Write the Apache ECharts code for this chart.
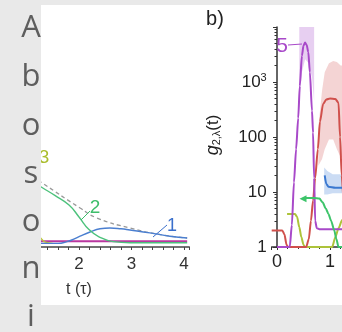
<!DOCTYPE html>
<html>
<head>
<meta charset="utf-8">
<script src="https://cdn.jsdelivr.net/npm/echarts@6/dist/echarts.min.js"></script>
<style>
  html, body { margin: 0; padding: 0; background: #e9e9e9; }
  #chart { width: 342px; height: 332px; }
</style>
</head>
<body>
<div id="chart"></div>
<script>
// side letters of the page text column
const sideLetters = ['A', 'b', 'o', 's', 'o', 'n', 'i']
const sideBaselines = [39, 88, 137, 185, 233, 280, 328]

// panel a) : t (tau) vs population, linear
const aGreen = [[1.0, 0.58], [1.28, 0.5], [1.54, 0.43], [1.81, 0.35], [2.0, 0.25], [2.19, 0.145], [2.38, 0.085], [2.65, 0.045], [2.97, 0.036], [4.06, 0.036]]
const aDashed = [[1.0, 0.62], [1.3, 0.533], [2.02, 0.325], [2.34, 0.242], [2.97, 0.158], [3.6, 0.1], [4.06, 0.075]]
const aBlue = [[1.0, 0.03], [1.6, 0.03], [1.77, 0.045], [1.9, 0.065], [2.02, 0.09], [2.21, 0.125], [2.4, 0.152], [2.59, 0.158], [2.8, 0.152], [2.97, 0.142], [3.35, 0.118], [3.73, 0.09], [4.06, 0.075]]
const aYellow = [[1.0, 0.25], [1.15, 0.13], [1.25, 0.085], [1.3, 0.06], [1.36, 0.04], [1.5, 0.03]]
const aMagenta = [[1.0, 0.048], [4.06, 0.048]]

// panel b) : g2 on a log scale
const bPurple = [[0, 1], [0.24, 1], [0.28, 2.5], [0.32, 15], [0.36, 60], [0.4, 220], [0.43, 850], [0.47, 3000], [0.5, 4600], [0.53, 5200], [0.56, 4700], [0.59, 3500], [0.62, 1500], [0.66, 300], [0.68, 120], [0.7, 18], [0.72, 3], [0.75, 2.2], [0.8, 2.1], [1.3, 2.1]]
const bRed = [[-0.1, 2], [0.1, 2], [0.14, 1.7], [0.18, 1.1], [0.21, 1], [0.55, 1], [0.6, 1.4], [0.64, 3], [0.68, 7], [0.72, 18], [0.77, 60], [0.81, 190], [0.87, 400], [0.93, 480], [1.0, 500], [1.1, 490], [1.16, 420], [1.19, 100], [1.22, 20], [1.26, 5]]
const bBlue = [[0.9, 20], [0.93, 14], [0.97, 12.5], [1.1, 12], [1.3, 12]]
const bGreen = [[0.49, 7.5], [0.55, 7.8], [0.7, 7.8], [0.8, 7.6], [0.86, 6.5], [0.92, 5], [0.97, 4], [1.02, 3], [1.08, 2], [1.12, 1.4], [1.16, 1], [1.3, 1]]
const bYellow = [[0.19, 4], [0.34, 4], [0.38, 3.5], [0.42, 2.3], [0.46, 1.5], [0.5, 1.1], [0.53, 1], [1.04, 1], [1.1, 1.5], [1.16, 2.2], [1.23, 3.1], [1.3, 4]]

// shaded bands: [x, low, high]
const bPurpleBand = [[0.42, 450, 10000], [0.47, 1500, 10000], [0.53, 2600, 10000], [0.6, 2200, 10000], [0.66, 1200, 10000], [0.7, 450, 10000]]
const bRedBand = [[0.78, 30, 150], [0.85, 40, 700], [0.9, 60, 1500], [0.98, 90, 2200], [1.06, 90, 2400], [1.13, 60, 2300], [1.2, 43, 2000], [1.3, 43, 2000]]
const bBlueBand = [[0.89, 9, 28], [0.95, 9, 24], [1.05, 9.5, 21], [1.3, 9.5, 21]]

const logLabel = v => (v === 1000 ? '10{s|3}' : v === 10000 ? '' : String(v))

const font = '"Liberation Sans", Arial, sans-serif'

const band = (data, fill) => ({
  type: 'custom',
  xAxisIndex: 1,
  yAxisIndex: 1,
  clip: true,
  z: 1,
  silent: true,
  data,
  encode: { x: 0, y: [1, 2] },
  renderItem: (params, api) => {
    if (params.dataIndex !== 0) return null
    const upper = data.map(d => api.coord([d[0], d[2]]))
    const lower = data.map(d => api.coord([d[0], d[1]])).reverse()
    return { type: 'polygon', shape: { points: upper.concat(lower) }, style: { fill } }
  }
})

const line = (data, color, axis, extra = {}) => ({
  type: 'line',
  xAxisIndex: axis,
  yAxisIndex: axis,
  data,
  symbol: 'none',
  smooth: axis ? 0.25 : 0.5,
  smoothMonotone: axis ? 'x' : undefined,
  lineStyle: { color, width: axis ? 2 : 1.4 },
  z: 3,
  ...extra
})

const text = (x, y, str, size, fill, z = 120) => ({
  type: 'text', x, y, z,
  style: { text: str, font: `${size}px ${font}`, fill, align: 'center', verticalAlign: 'middle' }
})

const leader = (x1, y1, x2, y2, stroke) => ({
  type: 'line', z: 60, shape: { x1, y1, x2, y2 }, style: { stroke, lineWidth: 1 }
})

const chart = echarts.init(document.getElementById('chart'))

chart.setOption({
  backgroundColor: '#fff',
  animation: false,
  grid: [
    { left: 26.5, top: 127, width: 162.75, height: 120 },
    { left: 271.7, top: 27, right: 0, height: 220 }
  ],
  xAxis: [
    {
      type: 'value', gridIndex: 0, min: 1, max: 4.1, interval: 1,
      axisLine: { lineStyle: { color: '#444', width: 1.5 } },
      axisTick: { length: 3, lineStyle: { color: '#444' } },
      minorTick: { show: true, splitNumber: 5, length: 3, lineStyle: { color: '#444' } },
      splitLine: { show: false },
      axisLabel: { showMinLabel: false, showMaxLabel: false, fontSize: 17, margin: 9, color: '#333', fontFamily: font }
    },
    {
      type: 'value', gridIndex: 1, min: -0.1, max: 1.226, splitNumber: 1,
      axisLine: { onZero: false, lineStyle: { color: '#333', width: 1.5 } },
      axisTick: { length: 3, lineStyle: { color: '#333' } },
      minorTick: { show: true, splitNumber: 5, length: 2, lineStyle: { color: '#333' } },
      splitLine: { show: false },
      axisLabel: { showMinLabel: false, showMaxLabel: false, fontSize: 18, margin: 6, color: '#222', fontFamily: font }
    }
  ],
  yAxis: [
    { type: 'value', gridIndex: 0, min: 0, max: 1, show: false },
    {
      type: 'log', gridIndex: 1, min: 1, max: 10000, logBase: 10,
      axisLine: { show: true, lineStyle: { color: '#333', width: 1.5 } },
      axisTick: { show: true, length: 4, lineStyle: { color: '#333' } },
      minorTick: { show: true, splitNumber: 9, length: 2.5, lineStyle: { color: '#333' } },
      splitLine: { show: false },
      axisLabel: {
        formatter: logLabel, fontSize: 17, margin: 5, color: '#222', fontFamily: font,
        rich: { s: { fontSize: 11, verticalAlign: 'top', lineHeight: 20, color: '#222', fontFamily: font } }
      }
    }
  ],
  series: [
    line(aMagenta, '#b9379f', 0, { smooth: false, lineStyle: { color: '#b9379f', width: 2 } }),
    line(aYellow, '#b8c43a', 0),
    line(aDashed, '#999', 0, { lineStyle: { color: '#999', width: 1.3, type: [4, 3] } }),
    line(aBlue, '#4b7fd0', 0),
    line(aGreen, '#4dc27c', 0),
    band(bPurpleBand, 'rgba(175, 95, 210, 0.3)'),
    band(bRedBand, 'rgba(215, 100, 100, 0.28)'),
    band(bBlueBand, 'rgba(70, 130, 215, 0.28)'),
    line(bYellow, '#adc33a', 1),
    line(bRed, '#d0504c', 1),
    line(bPurple, '#a849c9', 1),
    line(bBlue, '#3a78d0', 1),
    line(bGreen.map((d, i) => (i === 0 ? { value: d, symbol: 'triangle', symbolSize: 7, symbolRotate: 90 } : d)), '#3dc46a', 1, {
      showSymbol: true, itemStyle: { color: '#3dc46a' }
    })
  ],
  graphic: [
    text(44, 158, '3', 19, '#aabd2e', 50),
    { type: 'rect', z: 100, shape: { x: 0, y: 0, width: 41, height: 332 }, style: { fill: '#e9e9e9' } },
    { type: 'rect', z: 100, shape: { x: 0, y: 0, width: 342, height: 5 }, style: { fill: '#e9e9e9' } },
    { type: 'rect', z: 100, shape: { x: 0, y: 305, width: 342, height: 27 }, style: { fill: '#e9e9e9' } },
    ...sideLetters.map((ch, i) => ({
      type: 'text', x: 31, y: sideBaselines[i] - 11, z: 110,
      style: { text: ch, font: '31px "Open Sans", sans-serif', fill: '#5e5e5e', align: 'center', verticalAlign: 'middle' }
    })),
    text(95, 208, '2', 19, '#3dbd6a'),
    leader(81, 220, 90, 211, '#3dbd6a'),
    text(172, 226, '1', 18, '#3a6fcc'),
    leader(153, 237, 167, 225, '#3a6fcc'),
    text(79, 290, 't (τ)', 16, '#333'),
    text(215, 19, 'b)', 20, '#222'),
    text(282, 46, '5', 21, '#a849c9'),
    leader(288, 45, 302, 44, '#a849c9'),
    {
      type: 'text', x: 213, y: 135, z: 120, rotation: Math.PI / 2,
      style: {
        text: '{g|g}{s|2,λ}{n|(t)}', align: 'center', verticalAlign: 'middle',
        rich: {
          g: { font: `italic 18px ${font}`, fill: '#222' },
          s: { font: `11px ${font}`, fill: '#222', verticalAlign: 'bottom' },
          n: { font: `17px ${font}`, fill: '#222' }
        }
      }
    }
  ]
})
</script>
</body>
</html>
